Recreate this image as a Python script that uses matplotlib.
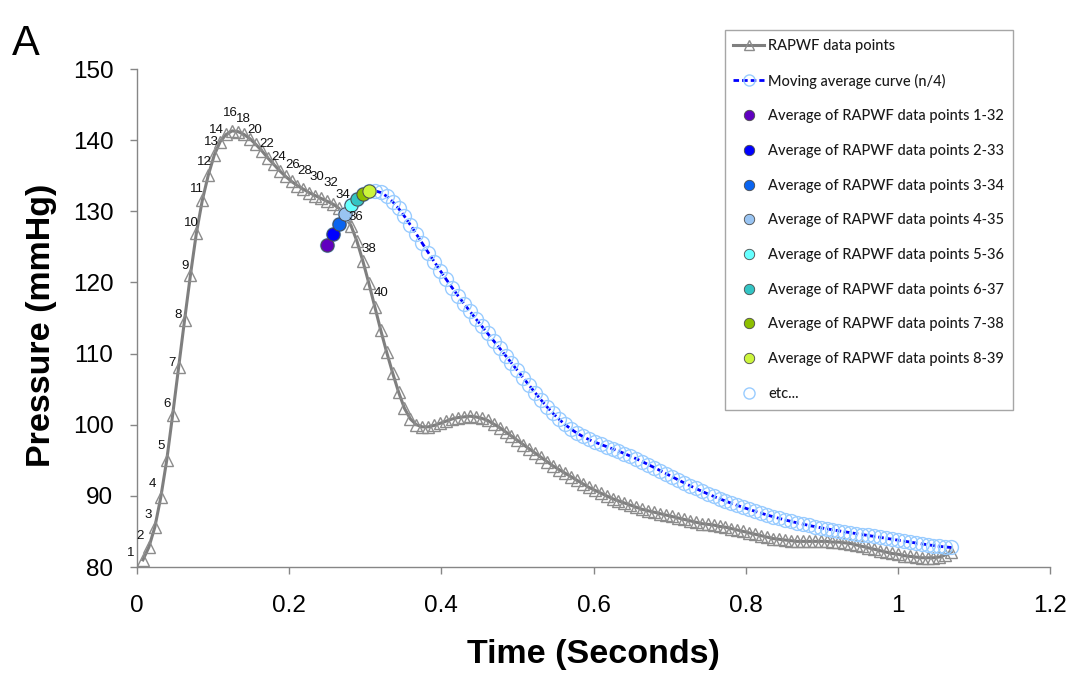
import numpy as np
import matplotlib
matplotlib.use('Agg')
import matplotlib.pyplot as plt
from matplotlib.lines import Line2D

# RAPWF samples (mmHg), sampled at 128 Hz, point 1 at t = 1/128 s
sample_rate = 128
pressure = [
    81.0, 82.8, 85.6, 89.8, 95.0, 101.4, 108.1, 114.7, 121.1, 127.0,
    131.6, 135.1, 137.9, 139.8, 140.8, 141.3, 141.2, 140.8, 140.2, 139.4,
    138.5, 137.5, 136.6, 135.7, 134.9, 134.2, 133.6, 133.1, 132.6, 132.2,
    131.8, 131.4, 131.0, 130.4, 129.3, 128.0, 125.8, 123.0, 119.9, 116.6,
    113.3, 110.2, 107.3, 104.6, 102.3, 100.8, 100.0, 99.7, 99.7, 99.9,
    100.2, 100.5, 100.8, 101.0, 101.1, 101.2, 101.1, 100.9, 100.6, 100.1,
    99.6, 99.0, 98.4, 97.8, 97.2, 96.6, 96.0, 95.4, 94.8, 94.2,
    93.7, 93.2, 92.7, 92.2, 91.7, 91.2, 90.8, 90.4, 90.0, 89.6,
    89.3, 89.0, 88.7, 88.4, 88.1, 87.9, 87.7, 87.5, 87.3, 87.1,
    86.9, 86.7, 86.5, 86.3, 86.1, 86.0, 85.9, 85.7, 85.6, 85.4,
    85.2, 85.0, 84.8, 84.6, 84.4, 84.2, 84.0, 83.9, 83.8, 83.7,
    83.6, 83.6, 83.6, 83.6, 83.6, 83.6, 83.5, 83.5, 83.4, 83.3,
    83.1, 82.9, 82.7, 82.5, 82.3, 82.1, 81.9, 81.8, 81.6, 81.5,
    81.4, 81.3, 81.3, 81.3, 81.4, 81.7, 82.1,
]
window = 32  # n/4

# numbered data points and where their labels sit (pixels from the point)
label_ids = list(range(1, 15)) + list(range(16, 41, 2))
label_dx = [-12, -9, -7, -8, -6, -6, -7, -6, -5, -5, -5, -4, -3, -4,
            -2, -1, -1, -1, -1, 1, 1, 2, 4, 4, 5, 6, 6]
label_dy = [7, 11, 12, 13, 14, 11, 4, 5, 9, 10, 11, 13, 13, 12,
            18, 15, 14, 14, 14, 16, 18, 19, 18, 13, 9, 12, 14]

avg_colors = ['#6000C0', '#0000FF', '#0A64F0', '#99C4F2',
              '#66FFFF', '#33C4C4', '#8DBF00', '#CCF53C']

x_ticks = [0, 0.2, 0.4, 0.6, 0.8, 1.0, 1.2]
x_tick_labels = ['0', '0.2', '0.4', '0.6', '0.8', '1', '1.2']
y_ticks = [80, 90, 100, 110, 120, 130, 140, 150]

pressure = np.array(pressure)
t = np.arange(1, len(pressure) + 1) / sample_rate
ma = np.convolve(pressure, np.ones(window) / window, mode='valid')
t_ma = t[window - 1:]

W, H = 1088, 673
fig = plt.figure(figsize=(W / 100, H / 100), dpi=100)
ax = fig.add_axes([137 / W, 106 / H, 913 / W, 498 / H])

grey = '#7F7F7F'
light_blue = '#99CCFF'
blue_dash = (0, (2.0, 1.1))

ax.plot(t, pressure, color=grey, lw=2.2, marker='^', ms=8,
        mfc='none', mec='#8C8C8C', mew=1.0, zorder=2)
ax.plot(t_ma, ma, color='#0000FF', lw=2.0, ls=blue_dash,
        marker='o', ms=10, mfc='none', mec=light_blue, mew=1.0, zorder=3)
for k, c in enumerate(avg_colors):
    ax.plot(t_ma[k], ma[k], ls='none', marker='o', ms=9.5, mfc=c,
            mec='#4a4a4a', mew=0.7, zorder=4)

for i, dx, dy in zip(label_ids, label_dx, label_dy):
    ax.annotate(str(i), (t[i - 1], pressure[i - 1]), xytext=(dx, dy),
                textcoords='offset pixels', ha='center', va='center',
                fontsize=9.5, family='Liberation Sans', color='#111111',
                zorder=5)

ax.set_xlim(0, 1.2)
ax.set_ylim(80, 150)
ax.set_xticks(x_ticks)
ax.set_xticklabels(x_tick_labels)
ax.set_yticks(y_ticks)
for s in ['top', 'right']:
    ax.spines[s].set_visible(False)
for s in ['left', 'bottom']:
    ax.spines[s].set_color('#868686')
    ax.spines[s].set_linewidth(1.0)
ax.tick_params(axis='both', direction='out', length=5, width=1,
               color='#868686', labelsize=17.5)
ax.tick_params(axis='x', pad=15)
ax.tick_params(axis='y', pad=12)
for lab in ax.get_xticklabels() + ax.get_yticklabels():
    lab.set_family('Liberation Sans')

fig.text(593 / W, 1 - 655 / H, 'Time (Seconds)', ha='center', va='center',
         fontsize=24.5, fontweight='bold', family='Liberation Sans')
fig.text(42 / W, 1 - 325 / H, 'Pressure (mmHg)', ha='center', va='center',
         rotation=90, fontsize=24.5, fontweight='bold',
         family='Liberation Sans')
fig.text(12 / W, 1 - 55 / H, 'A', ha='left', va='baseline', fontsize=30,
         family='Liberation Sans')

handles = [
    Line2D([], [], color=grey, lw=2.2, marker='^', ms=7, mfc='none',
           mec='#8C8C8C'),
    Line2D([], [], color='#0000FF', lw=2.0, ls=blue_dash, marker='o',
           ms=8, mfc='none', mec=light_blue),
]
labels = ['RAPWF data points', 'Moving average curve (n/4)']
for k, c in enumerate(avg_colors):
    handles.append(Line2D([], [], ls='none', marker='o', ms=7.5, mfc=c,
                          mec='#4a4a4a', mew=0.6))
    labels.append('Average of RAPWF data points %d-%d' % (k + 1, k + window))
handles.append(Line2D([], [], ls='none', marker='o', ms=8, mfc='none',
                      mec=light_blue))
labels.append('etc...')

leg = ax.legend(handles, labels, loc='upper right',
                bbox_to_anchor=(1013 / W, 1 - 30 / H),
                bbox_transform=fig.transFigure, borderaxespad=0,
                prop={'family': 'Lato', 'size': 10.5, 'weight': 'medium'},
                frameon=True, fancybox=False, framealpha=1,
                edgecolor='#A6A6A6', labelspacing=1.42, handlelength=2.1,
                handletextpad=0.3, borderpad=0.6)
leg.get_frame().set_linewidth(1.0)
for txt in leg.get_texts():
    txt.set_color('#1a1a1a')

fig.savefig('out.png', dpi=100)
